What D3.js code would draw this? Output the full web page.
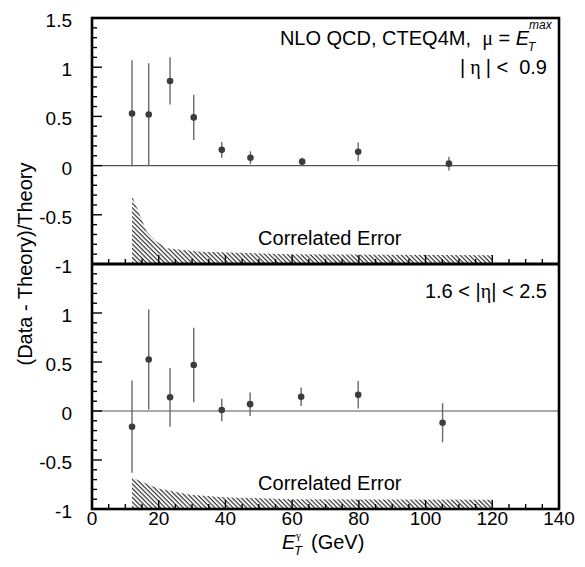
<!DOCTYPE html>
<html lang="en">
<head>
<meta charset="UTF-8">
<script src="https://d3js.org/d3.v7.min.js"></script>
<style>
  body { margin: 0; background: white; }
  svg text { font-family: "Liberation Sans", Arial, sans-serif; fill: #000; }
  .greek { font-family: "Liberation Serif", "DejaVu Serif", serif; }
</style>
</head>
<body>
<div id="chart"></div>
<script>
// data
const topX   = [12, 17, 23.4, 30.5, 38.9, 47.5, 63, 79.8, 107];
const topY   = [0.53, 0.52, 0.86, 0.49, 0.16, 0.08, 0.04, 0.14, 0.02];
const topErr = [0.54, 0.52, 0.24, 0.23, 0.08, 0.065, 0.04, 0.095, 0.07];

const botX   = [12, 17, 23.4, 30.5, 38.9, 47.4, 62.7, 79.8, 105.1];
const botY   = [-0.16, 0.525, 0.14, 0.47, 0.01, 0.07, 0.145, 0.165, -0.12];
const botErr = [0.47, 0.51, 0.30, 0.38, 0.115, 0.12, 0.095, 0.14, 0.2];

// correlated error band (upper edge; lower edge is the -1 axis)
const topBandX = [12, 16.4, 18.9, 22.4, 32.4, 59.4, 120];
const topBandY = [-0.31, -0.67, -0.76, -0.84, -0.875, -0.9, -0.91];
const botBandX = [12, 19.9, 29.4, 39.4, 60, 120];
const botBandY = [-0.68, -0.79, -0.855, -0.88, -0.9, -0.905];

const topLabels = ["1.5", "1", "0.5", "0", "-0.5", "-1"];
const botLabels = ["1", "0.5", "0", "-0.5", "-1"];
const xLabels = ["0", "20", "40", "60", "80", "100", "120", "140"];

const width = 585, height = 567;
const frameL = 92, frameR = 559, frameT = 18, frameM = 264, frameB = 509;

const svg = d3.select("#chart").append("svg")
    .attr("width", width)
    .attr("height", height);

const defs = svg.append("defs");
defs.append("pattern")
    .attr("id", "hatch")
    .attr("patternUnits", "userSpaceOnUse")
    .attr("width", 3.2)
    .attr("height", 10)
    .attr("patternTransform", "rotate(-45)")
    .append("line")
    .attr("x1", 1).attr("y1", 0)
    .attr("x2", 1).attr("y2", 10)
    .attr("stroke", "#222")
    .attr("stroke-width", 1.1);

const x = d3.scaleLinear().domain([0, 140]).range([frameL, frameR]);

function panel(y0, y1, xs, ys, errs, bandX, bandY, labels) {
    const y = d3.scaleLinear().domain([-1, 1.5]).range([y1, y0]);
    const g = svg.append("g");

    // hatched band
    const band = bandX.map((v, i) => [v, bandY[i]]);
    const area = d3.area()
        .x(d => x(d[0]))
        .y0(y(-1))
        .y1(d => y(d[1]));
    g.append("path")
        .datum(band)
        .attr("d", area)
        .attr("fill", "url(#hatch)");

    // zero line
    g.append("line")
        .attr("x1", x(0)).attr("x2", x(140))
        .attr("y1", y(0)).attr("y2", y(0))
        .attr("stroke", "#555").attr("stroke-width", 1.2);

    // y ticks (inward)
    const yMinor = d3.range(-10, 16).map(v => v / 10);
    g.selectAll(".ytick").data(yMinor).enter().append("line")
        .attr("x1", x(0))
        .attr("x2", d => x(0) + (Math.abs(d * 2 - Math.round(d * 2)) < 1e-6 ? 10 : 5))
        .attr("y1", d => y(d)).attr("y2", d => y(d))
        .attr("stroke", "#000").attr("stroke-width", 1.4);

    // x ticks (inward, from bottom)
    const xMinor = d3.range(0, 141, 5);
    g.selectAll(".xtick").data(xMinor).enter().append("line")
        .attr("x1", d => x(d)).attr("x2", d => x(d))
        .attr("y1", y(-1))
        .attr("y2", d => y(-1) - (d % 20 === 0 ? 9 : 5))
        .attr("stroke", "#000").attr("stroke-width", 1.4);

    // y tick labels
    g.selectAll(".ylab").data(labels).enter().append("text")
        .attr("x", x(0) - 20)
        .attr("y", d => y(+d) + 9)
        .attr("text-anchor", "end")
        .style("font-size", "19px")
        .text(d => d);

    // error bars
    g.selectAll(".err").data(xs).enter().append("line")
        .attr("x1", d => x(d)).attr("x2", d => x(d))
        .attr("y1", (d, i) => y(ys[i] + errs[i]))
        .attr("y2", (d, i) => y(ys[i] - errs[i]))
        .attr("stroke", "#6a6a6a").attr("stroke-width", 1.4);

    // points
    g.selectAll(".pt").data(xs).enter().append("circle")
        .attr("cx", d => x(d))
        .attr("cy", (d, i) => y(ys[i]))
        .attr("r", 3.3)
        .attr("fill", "#3c3c3c");

    // "Correlated Error"
    g.append("text")
        .attr("x", x(49.8))
        .attr("y", y(-0.8) + 1)
        .style("font-size", "20px")
        .text("Correlated Error");

    return y;
}

const yTop = panel(frameT, frameM, topX, topY, topErr, topBandX, topBandY, topLabels);
const yBot = panel(frameM, frameB, botX, botY, botErr, botBandX, botBandY, botLabels);

// frame
svg.append("rect")
    .attr("x", frameL).attr("y", frameT)
    .attr("width", frameR - frameL).attr("height", frameB - frameT)
    .attr("fill", "none").attr("stroke", "#000").attr("stroke-width", 2.6);
svg.append("line")
    .attr("x1", frameL).attr("x2", frameR)
    .attr("y1", frameM).attr("y2", frameM)
    .attr("stroke", "#000").attr("stroke-width", 3);

// x tick labels
svg.selectAll(".xlab").data(xLabels).enter().append("text")
    .attr("x", d => x(+d))
    .attr("y", frameB + 16)
    .attr("text-anchor", "middle")
    .style("font-size", "19px")
    .text(d => d);

// annotations, top panel
const t1 = svg.append("text")
    .attr("x", 529).attr("y", 45)
    .attr("text-anchor", "end")
    .attr("xml:space", "preserve")
    .style("font-size", "20px");
t1.append("tspan").text("NLO QCD, CTEQ4M,  ");
t1.append("tspan").attr("class", "greek").text("μ");
t1.append("tspan").text(" = ");
t1.append("tspan").style("font-style", "italic").text("E");
svg.append("text").attr("x", 528).attr("y", 51)
    .style("font-size", "12px").style("font-style", "italic").text("T");
svg.append("text").attr("x", 529).attr("y", 29)
    .style("font-size", "12px").style("font-style", "italic").text("max");

const t2 = svg.append("text")
    .attr("x", 547).attr("y", 74)
    .attr("text-anchor", "end")
    .attr("xml:space", "preserve")
    .style("font-size", "20px");
t2.append("tspan").text("|");
t2.append("tspan").attr("class", "greek").text(" η ");
t2.append("tspan").text("| <  0.9");

// bottom panel label
const t3 = svg.append("text")
    .attr("x", 547).attr("y", 298)
    .attr("text-anchor", "end")
    .style("font-size", "20px");
t3.append("tspan").text("1.6 < |");
t3.append("tspan").attr("class", "greek").text("η");
t3.append("tspan").text("| < 2.5");

// y axis title
svg.append("text")
    .attr("transform", `translate(32,${frameM}) rotate(-90)`)
    .attr("text-anchor", "middle")
    .style("font-size", "20px")
    .text("(Data - Theory)/Theory");

// x axis title, one text with sub/superscript tspans
const xt = svg.append("text")
    .attr("x", 282).attr("y", 549)
    .style("font-size", "20px");
xt.append("tspan").style("font-style", "italic").text("E");
xt.append("tspan").attr("x", 294).attr("y", 555)
    .style("font-size", "13px").style("font-style", "italic").text("T");
xt.append("tspan").attr("x", 296).attr("y", 539)
    .attr("class", "greek")
    .style("font-size", "11px").text("γ");
xt.append("tspan").attr("x", 311).attr("y", 549).text("(GeV)");
</script>
</body>
</html>
